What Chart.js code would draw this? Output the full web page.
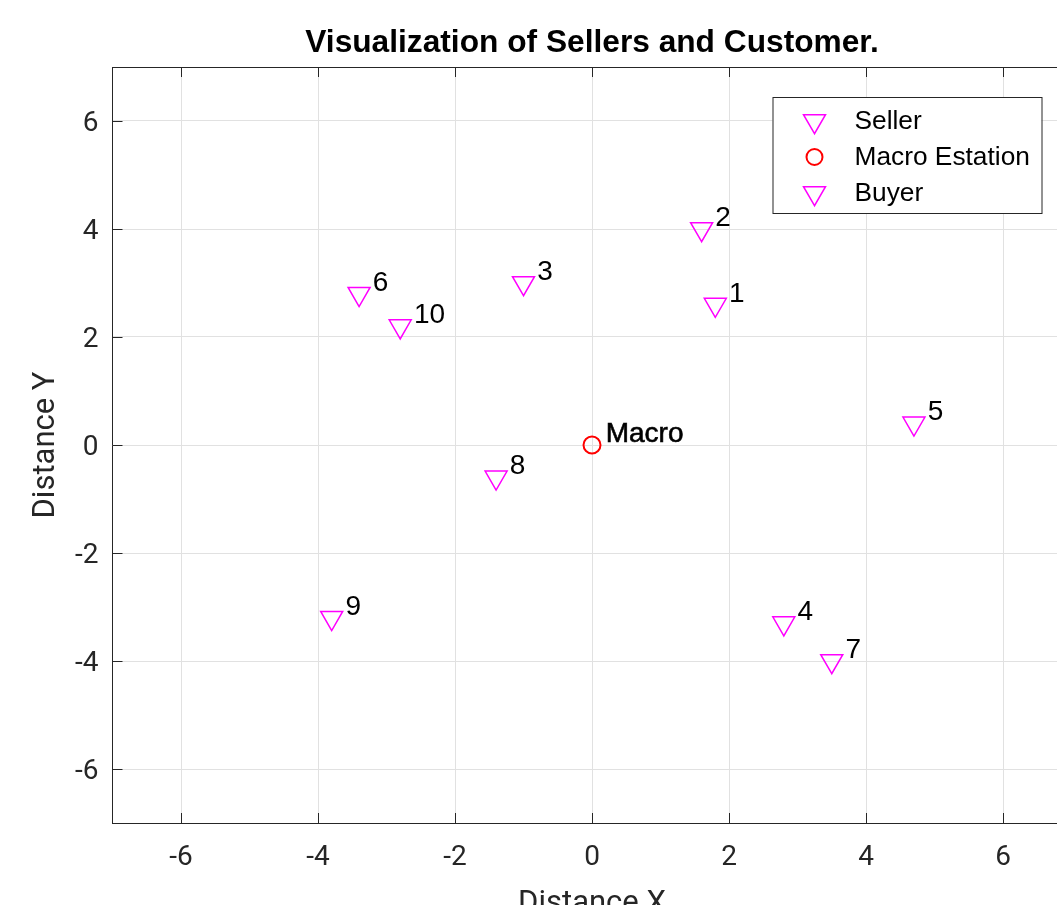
<!DOCTYPE html>
<html>
<head>
<meta charset="utf-8">
<title>Visualization of Sellers and Customer.</title>
<script src="https://cdn.jsdelivr.net/npm/chart.js@4.4.1/dist/chart.umd.min.js"></script>
<style>
    html, body { margin: 0; padding: 0; background: #fff; overflow: hidden; }
    #wrap { width: 1057px; height: 905px; overflow: hidden; position: relative; }
    #plot { position: absolute; left: 0; top: 0; }
</style>
</head>
<body>
<div id="wrap">
    <canvas id="plot" width="1100" height="905"></canvas>
</div>
<script>
// ---- data ----
const pointIds = ['1', '2', '3', '4', '5', '6', '7', '8', '9', '10'];
const sellerX = [1.8, 1.6, -1.0, 2.8, 4.7, -3.4, 3.5, -1.4, -3.8, -2.8];
const sellerY = [2.6, 4.0, 3.0, -3.3, 0.4, 2.8, -4.0, -0.6, -3.2, 2.2];
const macroX = [0];
const macroY = [0];
const macroIds = ['Macro'];
const buyerX = [];
const buyerY = [];
const xTicks = [-6, -4, -2, 0, 2, 4, 6];
const yTicks = [-6, -4, -2, 0, 2, 4, 6];
const axisMin = -7;
const axisMax = 7;
const labelShift = 0.2;   // text placed at (x + 0.2, y + 0.2)

const AXIS = '#262626';
const GRID = '#e1e1e1';

function toPoints(xs, ys) {
    return xs.map((x, i) => ({ x: x, y: ys[i] }));
}

// Title, axis titles, inward ticks, point labels and the legend box
const overlay = {
    id: 'overlay',
    afterDraw(chart) {
        const ctx = chart.ctx;
        const area = chart.chartArea;
        const sx = chart.scales.x;
        const sy = chart.scales.y;

        ctx.save();

        // top border (box on)
        ctx.strokeStyle = AXIS;
        ctx.lineWidth = 1;
        ctx.beginPath();
        ctx.moveTo(area.left, area.top + 0.5);
        ctx.lineTo(area.right, area.top + 0.5);
        ctx.moveTo(area.right - 0.5, area.top);
        ctx.lineTo(area.right - 0.5, area.bottom);
        ctx.stroke();

        // inward ticks
        const tl = 10;
        ctx.beginPath();
        sx.ticks.forEach(t => {
            const px = Math.round(sx.getPixelForValue(t.value)) + 0.5;
            ctx.moveTo(px, area.bottom);
            ctx.lineTo(px, area.bottom - tl);
            ctx.moveTo(px, area.top);
            ctx.lineTo(px, area.top + tl);
        });
        sy.ticks.forEach(t => {
            const py = Math.round(sy.getPixelForValue(t.value)) + 0.5;
            ctx.moveTo(area.left, py);
            ctx.lineTo(area.left + tl, py);
            ctx.moveTo(area.right, py);
            ctx.lineTo(area.right - tl, py);
        });
        ctx.stroke();

        // point labels
        ctx.fillStyle = '#000';
        ctx.textAlign = 'left';
        ctx.textBaseline = 'middle';
        ctx.font = '28px "Liberation Sans", Arial, sans-serif';
        sellerX.forEach((x, i) => {
            ctx.fillText(pointIds[i],
                sx.getPixelForValue(x + labelShift),
                sy.getPixelForValue(sellerY[i] + labelShift));
        });
        ctx.strokeStyle = '#000';
        ctx.lineWidth = 0.6;
        macroX.forEach((x, i) => {
            const px = sx.getPixelForValue(x + labelShift);
            const py = sy.getPixelForValue(macroY[i] + labelShift);
            ctx.fillText(macroIds[i], px, py);
            ctx.strokeText(macroIds[i], px, py);
        });

        // chart title
        ctx.textAlign = 'center';
        ctx.textBaseline = 'alphabetic';
        ctx.font = 'bold 31.7px "Liberation Sans", Arial, sans-serif';
        ctx.fillText('Visualization of Sellers and Customer.', (area.left + area.right) / 2, area.top - 15);

        // axis titles
        ctx.fillStyle = AXIS;
        ctx.font = '31px Roboto, sans-serif';
        ctx.fillText('Distance X', (area.left + area.right) / 2, area.bottom + 89);
        ctx.save();
        ctx.translate(area.left - 66, (area.top + area.bottom) / 2);
        ctx.rotate(-Math.PI / 2);
        ctx.textBaseline = 'middle';
        ctx.fillText('Distance Y', 0, 0);
        ctx.restore();

        // legend
        const lx = area.right - 299, ly = area.top + 30, lw = 269, lh = 116;
        ctx.fillStyle = '#fff';
        ctx.fillRect(lx, ly, lw, lh);
        ctx.strokeStyle = AXIS;
        ctx.lineWidth = 1;
        ctx.strokeRect(lx + 0.5, ly + 0.5, lw, lh);

        ctx.font = '26.3px "Liberation Sans", Arial, sans-serif';
        ctx.textAlign = 'left';
        ctx.textBaseline = 'middle';
        chart.data.datasets.forEach((ds, i) => {
            const cy = ly + 24 + i * 36;
            const cx = lx + 42;
            ctx.save();
            ctx.strokeStyle = ds.borderColor;
            ctx.fillStyle = 'rgba(0,0,0,0)';
            ctx.lineWidth = ds.borderWidth;
            Chart.helpers.drawPoint(ctx, {
                pointStyle: ds.pointStyle,
                rotation: ds.rotation || 0,
                radius: ds.legendRadius,
                borderWidth: ds.borderWidth
            }, cx, cy);
            ctx.restore();
            ctx.fillStyle = '#000';
            ctx.fillText(ds.label, lx + 82, cy + 1);
        });

        ctx.restore();
    }
};

Chart.defaults.font.family = 'Roboto, sans-serif';

const axisOpts = (ticks, size) => ({
    type: 'linear',
    min: axisMin,
    max: axisMax,
    afterBuildTicks: scale => { scale.ticks = ticks.map(v => ({ value: v })); },
    grid: { color: GRID, drawTicks: false, lineWidth: 1 },
    border: { color: AXIS, width: 1 },
    ticks: {
        color: AXIS,
        font: { size: 28, family: 'Roboto, sans-serif' },
        padding: size.padding,
        labelOffset: size.labelOffset || 0,
        autoSkip: false,
        maxRotation: 0
    },
    afterFit: scale => {
        if (size.width) scale.width = size.width;
        if (size.height) scale.height = size.height;
    }
});

new Chart(document.getElementById('plot'), {
    type: 'scatter',
    data: {
        datasets: [
            {
                label: 'Seller',
                data: toPoints(sellerX, sellerY),
                pointStyle: 'triangle',
                rotation: 180,
                pointRadius: 12.7,
                legendRadius: 12.7,
                borderColor: '#ff00ff',
                backgroundColor: 'rgba(0,0,0,0)',
                borderWidth: 1.5
            },
            {
                label: 'Macro Estation',
                data: toPoints(macroX, macroY),
                pointStyle: 'circle',
                pointRadius: 8.5,
                legendRadius: 8,
                borderColor: '#ff0000',
                backgroundColor: 'rgba(0,0,0,0)',
                borderWidth: 2
            },
            {
                label: 'Buyer',
                data: toPoints(buyerX, buyerY),
                pointStyle: 'triangle',
                rotation: 180,
                pointRadius: 12.7,
                legendRadius: 12.7,
                borderColor: '#ff00ff',
                backgroundColor: 'rgba(0,0,0,0)',
                borderWidth: 1.5
            }
        ]
    },
    options: {
        responsive: false,
        animation: false,
        layout: { padding: { top: 67, right: 28.5, left: 0, bottom: 0 } },
        plugins: {
            legend: { display: false },
            tooltip: { enabled: false },
            title: { display: false }
        },
        scales: {
            x: axisOpts(xTicks, { height: 82, padding: 18 }),
            y: axisOpts(yTicks, { width: 112.5, padding: 14, labelOffset: 3 })
        }
    },
    plugins: [overlay]
});
</script>
</body>
</html>
